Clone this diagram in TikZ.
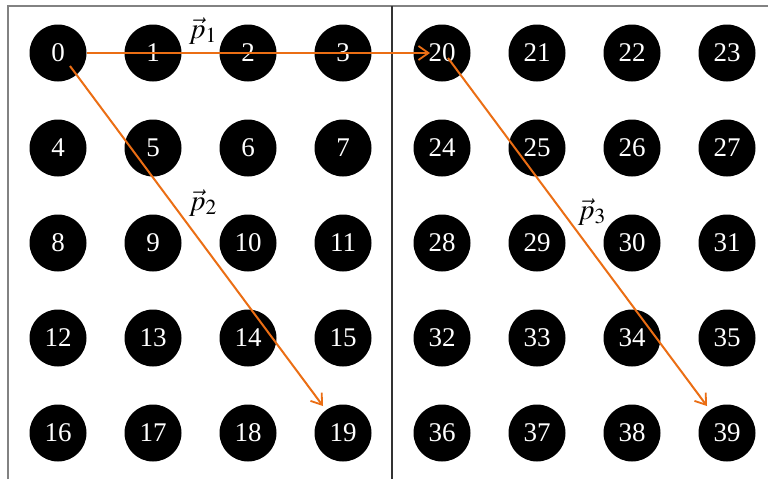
\documentclass[tikz,border=0pt]{standalone}
\usepackage{mathptmx}
\usepackage{fontspec}
\setmainfont{Liberation Serif}
\usetikzlibrary{calc,arrows.meta}
\definecolor{arroworange}{RGB}{235,110,20}
\definecolor{framegray}{RGB}{130,130,130}
\definecolor{divgray}{RGB}{50,50,50}
\tikzset{
  dot/.style={circle,fill=black,minimum size=57pt,inner sep=0pt,text=white,
    font=\fontsize{27}{27}\selectfont},
  vecarrow/.style={draw=arroworange,line width=2pt,-{Straight Barb[length=10pt,width=14pt,line width=1.8pt]}},
  veclabel/.style={font=\fontsize{29}{29}\selectfont,inner sep=0pt},
  frameline/.style={draw=framegray,line width=1.5pt},
  divline/.style={draw=divgray,line width=1.2pt}
}
\begin{document}
\begin{tikzpicture}[x=1pt,y=-1pt]
\useasboundingbox (0,0) rectangle (768,479);
\fill[white] (0,0) rectangle (768,479);
% frame
\coordinate (tl) at (8,6);
\coordinate (tr) at (768,6);
\coordinate (bl) at (8,479);
\coordinate (dt) at (392,6);
\coordinate (db) at (392,479);
\draw[frameline] (bl) -- (tl) -- (tr);
\draw[divline] (dt) -- (db);
% dots
\foreach \r in {0,...,4} {
  \foreach \c in {0,...,3} {
    \pgfmathtruncatemacro{\nl}{4*\r+\c}
    \pgfmathtruncatemacro{\nr}{20+4*\r+\c}
    \node[dot] (n\nl) at (58+95*\c,53+95*\r) {\nl};
    \node[dot] (n\nr) at (442+95*\c,53+95*\r) {\nr};
  }
}
% arrows
\coordinate (p1e) at ($(n20.center)+(-12,0)$);
\coordinate (p2s) at ($(n0.center)+(12,13)$);
\coordinate (p2e) at ($(n19.center)+(-20,-27)$);
\coordinate (p3s) at ($(n20.center)+(6,5)$);
\coordinate (p3e) at ($(n39.center)+(-20,-27)$);
\draw[vecarrow] (n0.east) -- (p1e);
\draw[vecarrow] (p2s) -- (p2e);
\draw[vecarrow] (p3s) -- (p3e);
% labels
\node[veclabel] (l1) at (203,31) {$\vec{p}_1$};
\node[veclabel] (l2) at (203,203) {$\vec{p}_2$};
\node[veclabel] (l3) at (592,212) {$\vec{p}_3$};
\end{tikzpicture}
\end{document}
